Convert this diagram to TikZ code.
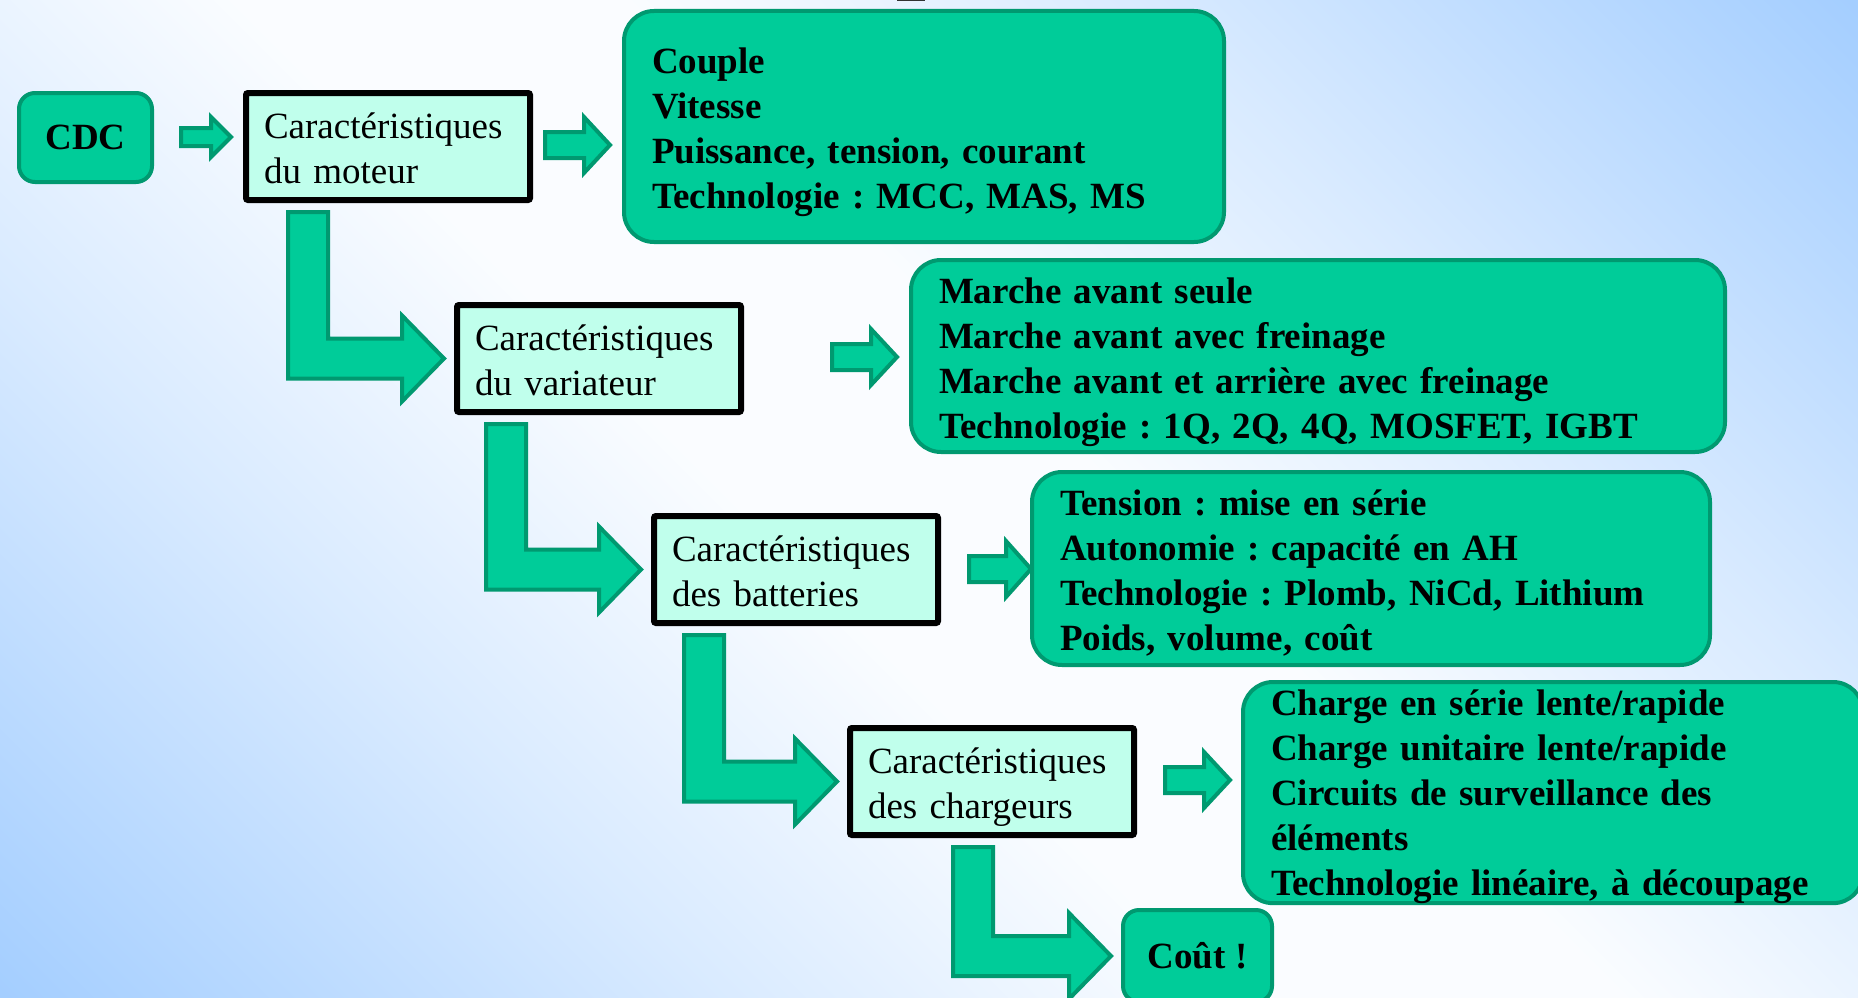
\documentclass[tikz,border=0pt]{standalone}
\usepackage{fontspec}
\setmainfont{Liberation Serif}
\frenchspacing
\usetikzlibrary{calc}
\definecolor{gfill}{RGB}{0,204,153}
\definecolor{gdraw}{RGB}{0,153,112}
\definecolor{lfill}{RGB}{192,255,236}
\definecolor{bgblue}{RGB}{164,206,255}
\colorlet{bgmid}{bgblue!42!white}
\colorlet{bgwhite}{bgblue!6!white}
\pgfdeclarehorizontalshading{bgsh}{100bp}{color(0bp)=(bgblue); color(14.6bp)=(bgblue); color(32.3bp)=(bgmid); color(45bp)=(bgwhite); color(55bp)=(bgwhite); color(67.7bp)=(bgmid); color(85.4bp)=(bgblue); color(100bp)=(bgblue)}
\newcommand\ftop{\rule{0pt}{38pt}}
\newcommand\fbot{\rule[-9pt]{0pt}{9pt}}
\newcommand\sarr[7]{\coordinate (#1) at (#2,#3);
  \filldraw[blk] (#1) ++(0,-#6) -- ++(#4,0) -- ++(0,#6-#7) -- ++(#5,#7) -- ++(-#5,#7) -- ++(0,#6-#7) -- ++(-#4,0) -- cycle;}
\newcommand\larr[4]{%
  \coordinate (#4s) at ($(#1.south west)+(#2,9)$);
  \coordinate (#4t) at ($(#3.west)+(-10,0)$);
  \filldraw[blk] (#4s) -- ++(40,0) |- ($(#4t)+(-42,-20)$) -- ++(0,-23) -- (#4t) -- ++(-42,43) -- ++(0,-23) -| (#4s) -- cycle;}
\begin{document}
\begin{tikzpicture}[x=1pt,y=-1pt,
  gbox/.style={draw=gdraw, line width=4pt, fill=gfill, rounded corners=30pt,
    font=\fontsize{37}{45}\selectfont\bfseries, align=left, inner xsep=28pt, inner ysep=0pt, anchor=north west},
  lbox/.style={draw=black, line width=6pt, fill=lfill, rounded corners=2pt,
    font=\fontsize{37}{45}\selectfont, align=left, inner xsep=18pt, inner ysep=0pt,
    text width=248pt, minimum width=284pt, minimum height=107pt, anchor=north west},
  blk/.style={draw=gdraw, line width=4pt, fill=gfill, line join=miter}]
\useasboundingbox (0,0) rectangle (1858,998);
\clip (0,0) rectangle (1858,998);
\shade[shading=bgsh, shading angle=45] (0,0) rectangle (1858,998);
\fill[black!80] (897,0) rectangle (925,1.5);

% boxes
\node[gbox, rounded corners=16pt, align=center, inner xsep=0pt, minimum width=133pt, minimum height=89pt] (cdc) at (17,91) {CDC};
\node[lbox] (mot) at (243,90) {\ftop Caractéristiques\\du moteur\fbot};
\node[gbox, text width=544pt, minimum width=600pt, minimum height=231pt] (b1) at (622,9)
  {\ftop Couple\\Vitesse\\Puissance, tension, courant\\Technologie : MCC, MAS, MS\fbot};
\node[lbox] (var) at (454,302) {\ftop Caractéristiques\\du variateur\fbot};
\node[gbox, text width=758pt, minimum width=814pt, minimum height=192pt] (b2) at (909,258)
  {\ftop Marche avant seule\\Marche avant avec freinage\\Marche avant et arrière avec freinage\\Technologie : 1Q, 2Q, 4Q, MOSFET, IGBT\fbot};
\node[lbox] (bat) at (651,513) {\ftop Caractéristiques\\des batteries\fbot};
\node[gbox, text width=622pt, minimum width=678pt, minimum height=193pt] (b3) at (1030,470)
  {\ftop Tension : mise en série\\Autonomie : capacité en AH\\Technologie : Plomb, NiCd, Lithium\\Poids, volume, coût\fbot};
\node[lbox] (cha) at (847,725) {\ftop Caractéristiques\\des chargeurs\fbot};
\node[gbox, text width=564pt, minimum width=620pt, minimum height=217pt] (b4) at (1241,680)
  {\rule{0pt}{33pt}Charge en série lente/rapide\\Charge unitaire lente/rapide\\Circuits de surveillance des\\éléments\\Technologie linéaire, à découpage};
\node[gbox, rounded corners=16pt, align=center, inner xsep=0pt, minimum width=149pt, minimum height=92pt] (cout) at (1121,908) {Coût !};

% straight block arrows
\sarr{a1}{181}{137}{30}{20}{9}{20}
\sarr{a2}{545}{145}{39}{26}{13}{28}
\sarr{a3}{832}{357}{39}{26}{13}{28}
\sarr{a4}{969}{569}{37}{25}{13}{28}
\sarr{a5}{1165}{780}{39}{26}{13}{28}

% L-shaped block arrows
\larr{mot}{45}{var}{l1}
\larr{var}{32}{bat}{l2}
\larr{bat}{33}{cha}{l3}
\larr{cha}{106}{cout}{l4}
\end{tikzpicture}
\end{document}
